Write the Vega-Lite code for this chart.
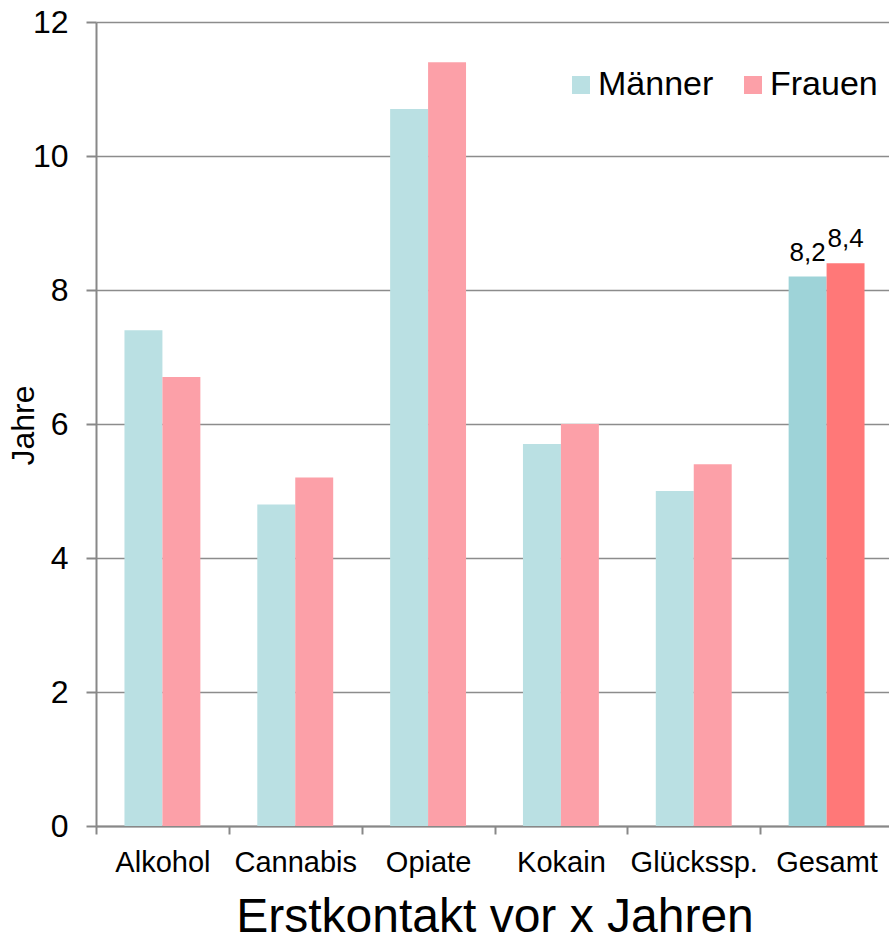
{
  "$schema": "https://vega.github.io/schema/vega-lite/v6.json",
  "autosize": "none",
  "width": 797,
  "height": 804,
  "padding": {"left": 96, "top": 22, "right": 0, "bottom": 116},
  "background": "white",
  "data": {"values": [
    {"Kategorie": "Alkohol", "Geschlecht": "Männer", "Jahre": 7.4},
    {"Kategorie": "Alkohol", "Geschlecht": "Frauen", "Jahre": 6.7},
    {"Kategorie": "Cannabis", "Geschlecht": "Männer", "Jahre": 4.8},
    {"Kategorie": "Cannabis", "Geschlecht": "Frauen", "Jahre": 5.2},
    {"Kategorie": "Opiate", "Geschlecht": "Männer", "Jahre": 10.7},
    {"Kategorie": "Opiate", "Geschlecht": "Frauen", "Jahre": 11.4},
    {"Kategorie": "Kokain", "Geschlecht": "Männer", "Jahre": 5.7},
    {"Kategorie": "Kokain", "Geschlecht": "Frauen", "Jahre": 6.0},
    {"Kategorie": "Glückssp.", "Geschlecht": "Männer", "Jahre": 5.0},
    {"Kategorie": "Glückssp.", "Geschlecht": "Frauen", "Jahre": 5.4},
    {"Kategorie": "Gesamt", "Geschlecht": "Männer", "Jahre": 8.2},
    {"Kategorie": "Gesamt", "Geschlecht": "Frauen", "Jahre": 8.4}
  ]},
  "encoding": {
    "x": {
      "field": "Kategorie", "type": "nominal", "sort": null,
      "scale": {"paddingInner": 0, "paddingOuter": 0},
      "axis": {
        "title": "Erstkontakt vor x Jahren",
        "titleFontSize": 48, "titleFontWeight": "normal", "titleFont": "Liberation Sans", "titleColor": "black", "titlePadding": 16,
        "labelFontSize": 29, "labelFont": "Liberation Sans", "labelColor": "black", "labelPadding": 14, "labelAngle": 0,
        "domainColor": "#888888", "domainWidth": 2,
        "tickColor": "#888888", "tickWidth": 2, "tickSize": 8, "tickBand": "extent",
        "grid": false
      }
    },
    "xOffset": {"field": "Geschlecht", "type": "nominal", "sort": ["Männer", "Frauen"], "scale": {"paddingInner": 0, "paddingOuter": 0.75}},
    "y": {
      "field": "Jahre", "type": "quantitative",
      "scale": {"domain": [0, 12], "nice": false},
      "axis": {
        "title": "Jahre", "titleFontSize": 32, "titleFontWeight": "normal", "titleFont": "Liberation Sans", "titleColor": "black",
        "titleX": -63, "titleY": 403, "titleAlign": "center", "titleBaseline": "alphabetic", "titleAngle": -90,
        "values": [0, 2, 4, 6, 8, 10, 12],
        "labelFontSize": 32, "labelFont": "Liberation Sans", "labelColor": "black", "labelPadding": 18,
        "domainColor": "#888888", "domainWidth": 2,
        "tickColor": "#888888", "tickWidth": 2, "tickSize": 10,
        "gridColor": "#8c8c8c", "gridWidth": 1.5
      }
    }
  },
  "layer": [
    {
      "mark": {"type": "bar"},
      "encoding": {
        "color": {
          "condition": [
            {"test": "datum.Kategorie === 'Gesamt' && datum.Geschlecht === 'Männer'", "value": "#9ED3D8"},
            {"test": "datum.Kategorie === 'Gesamt' && datum.Geschlecht === 'Frauen'", "value": "#FF7878"}
          ],
          "field": "Geschlecht", "type": "nominal",
          "scale": {"domain": ["Männer", "Frauen"], "range": ["#BAE0E3", "#FCA0A8"]},
          "legend": {
            "title": null, "orient": "none", "direction": "horizontal",
            "legendX": 468, "legendY": 46,
            "symbolType": "square", "symbolSize": 324, "symbolStrokeWidth": 0, "symbolOpacity": 1,
            "labelFontSize": 34, "labelFont": "Liberation Sans", "labelColor": "black", "labelOffset": 0,
            "columnPadding": 22
          }
        }
      }
    },
    {
      "transform": [
        {"filter": "datum.Kategorie === 'Gesamt'"},
        {"calculate": "replace(format(datum.Jahre, '.1f'), '.', ',')", "as": "Label"}
      ],
      "mark": {"type": "text", "baseline": "alphabetic", "dy": -16, "fontSize": 26, "font": "Liberation Sans", "color": "black"},
      "encoding": {"text": {"field": "Label"}}
    }
  ],
  "config": {"view": {"stroke": null}}
}
